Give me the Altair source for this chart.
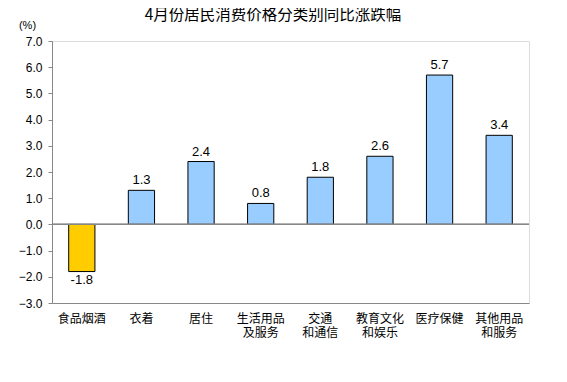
import altair as alt
import pandas as pd

categories = ["食品烟酒", "衣着", "居住", "生活用品\n及服务", "交通\n和通信", "教育文化\n和娱乐", "医疗保健", "其他用品\n和服务"]
values = [-1.8, 1.3, 2.4, 0.8, 1.8, 2.6, 5.7, 3.4]
y_ticks = [-3.0, -2.0, -1.0, 0.0, 1.0, 2.0, 3.0, 4.0, 5.0, 6.0, 7.0]
title_text = "4月份居民消费价格分类别同比涨跌幅"

df = pd.DataFrame({"cat": categories, "val": values})
df["sign"] = ["neg" if v < 0 else "pos" for v in values]
df["label"] = [f"{v:.1f}" for v in values]
df["zero"] = 0.0

yscale = alt.Scale(domain=[-3, 7], nice=False, zero=False)
xscale = alt.Scale(paddingInner=0.56, paddingOuter=0.28)

xaxis = alt.Axis(labelAngle=0, ticks=False, domainColor="#888888",
                 labelFont="Noto Sans CJK SC", labelFontSize=12,
                 labelColor="#000000", labelPadding=10, labelLineHeight=14,
                 labelBaseline="top", labelOverlap=False,
                 labelExpr="split(datum.label, '\\n')")
yaxis = alt.Axis(values=y_ticks, format=".1f", grid=False, labelOverlap=False,
                 domainColor="#888888", tickColor="#888888", tickSize=4,
                 labelFont="Liberation Sans", labelFontSize=12, labelColor="#000000",
                 labelPadding=6,
                 titleAngle=0, titleX=-25, titleY=-16, titleAlign="center",
                 titleBaseline="middle", titleFont="Liberation Sans",
                 titleFontSize=11, titleFontWeight="normal", titleColor="#000000")

x = alt.X("cat:N", sort=None, title=None, scale=xscale, axis=xaxis)
y = alt.Y("val:Q", title="(%)", scale=yscale, axis=yaxis)

base = alt.Chart(df)

bars = base.mark_bar(stroke="#000000", strokeWidth=1).encode(
    x=x, y=y,
    color=alt.Color("sign:N", scale=alt.Scale(domain=["neg", "pos"], range=["#FFCC00", "#99CCFF"]), legend=None),
)

zero = base.mark_rule(color="#888888", strokeWidth=1).encode(
    y=alt.Y("zero:Q", title="(%)", scale=yscale, axis=yaxis))

pos_labels = base.transform_filter("datum.val >= 0").mark_text(
    baseline="bottom", dy=-3, font="Liberation Sans", fontSize=13, color="#000000"
).encode(x=x, y=y, text="label:N")

neg_labels = base.transform_filter("datum.val < 0").mark_text(
    baseline="top", dy=2, font="Liberation Sans", fontSize=13, color="#000000"
).encode(x=x, y=y, text="label:N")

title = alt.Chart(pd.DataFrame({"t": [title_text]})).mark_text(
    font="Noto Sans CJK SC", fontSize=15.5, color="#000000", baseline="middle", align="center"
).encode(x=alt.value(221), y=alt.value(-26), text="t:N")

chart = alt.layer(bars, zero, pos_labels, neg_labels, title).properties(
    width=477, height=262,
    padding={"left": 44, "top": 33, "right": 30, "bottom": 60},
    autosize=alt.AutoSizeParams(type="none"),
).configure_view(stroke="#888888", strokeWidth=1).configure(background="#ffffff")

chart.save("out.html", embed_options={"renderer": "svg", "actions": False})
